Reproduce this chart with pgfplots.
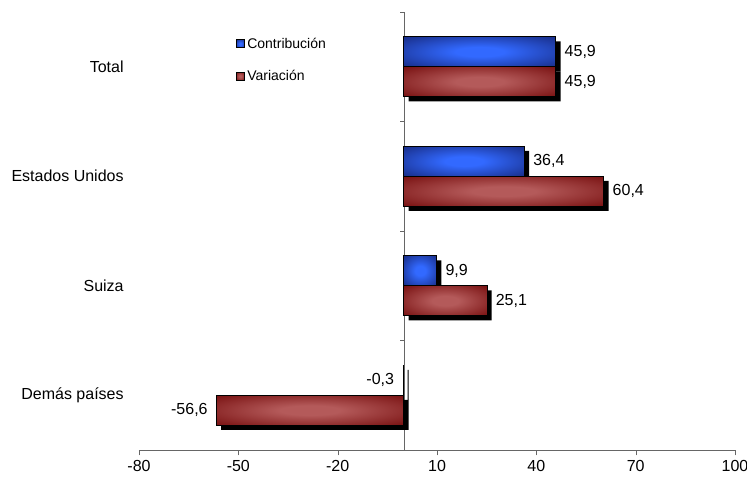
\documentclass[border=0pt]{standalone}
\usepackage{pgfplots}
\pgfplotsset{compat=1.18}
\usepackage{fontspec}
\setmainfont{Liberation Sans}
\definecolor{bluein}{RGB}{50,105,255}
\definecolor{blueout}{RGB}{22,40,125}
\definecolor{redin}{RGB}{180,90,90}
\definecolor{redout}{RGB}{115,10,10}
\definecolor{legblue}{RGB}{40,90,230}
\definecolor{legred}{RGB}{165,70,70}
\pgfdeclareradialshading{blueshade}{\pgfpoint{0bp}{0bp}}{color(0bp)=(bluein); color(8bp)=(bluein); color(38bp)=(blueout); color(50bp)=(blueout)}
\pgfdeclareradialshading{redshade}{\pgfpoint{0bp}{0bp}}{color(0bp)=(redin); color(8bp)=(redin); color(38bp)=(redout); color(50bp)=(redout)}
\pgfplotsset{
  barbase/.style={xbar, bar width=22.5pt, draw=black, line width=0.6pt,
    nodes near coords, nodes near coords align={horizontal},
    every node near coord/.append style={font=\fontsize{12}{14}\selectfont, black,
      /pgf/number format/use comma, /pgf/number format/fixed, /pgf/number format/fixed zerofill,
      /pgf/number format/precision=1, /pgf/number format/assume math mode=true}},
  bluebar/.style={barbase, bar shift=11.25pt, shade, shading=blueshade,
    every node near coord/.append style={yshift=11.25pt},
    legend image code/.code={\draw[fill=legblue,draw=black,line width=0.6pt] (0pt,-3pt) rectangle (6pt,3pt);}},
  redbar/.style={barbase, bar shift=-11.25pt, shade, shading=redshade,
    every node near coord/.append style={yshift=-11.25pt},
    legend image code/.code={\draw[fill=legred,draw=black,line width=0.6pt] (0pt,-3pt) rectangle (6pt,3pt);}},
  pos/.style={every node near coord/.append style={xshift=3pt}},
  neg/.style={every node near coord/.append style={xshift=-3pt}},
  shadow/.style={xbar, bar width=22.5pt, bar shift=#1, fill=black, draw=none, xshift=3.5pt, yshift=-3.5pt, forget plot},
}
\begin{document}
\begin{tikzpicture}
\begin{axis}[
  scale only axis, width=447pt, height=328.5pt,
  xmin=-80, xmax=100, ymin=-0.5, ymax=3.5,
  xtick={-80,-50,-20,10,40,70,100},
  ytick={0,1,2,3},
  yticklabels={Demás países,Suiza,Estados Unidos,Total},
  axis x line=bottom, axis y line=left,
  x axis line style={-, draw=black!60},
  y axis line style={draw=none},
  xtick style={draw=black!60}, ytick style={draw=none},
  tick align=outside, major tick length=4pt,
  ticklabel style={font=\fontsize{12}{14}\selectfont},
  yticklabel style={xshift=-4pt},
  /pgf/number format/assume math mode=true,
  legend style={at={(rel axis cs:0.162,0.948)}, anchor=north west, draw=none, fill=none,
    font=\fontsize{10.5}{12}\selectfont, row sep=11pt, inner sep=0pt, cells={anchor=west}},
  clip=false,
]
\draw[black!60] (axis cs:0,-0.5) -- (axis cs:0,3.5);
\pgfplotsinvokeforeach{0.5,1.5,2.5,3.5}{\draw[black!60] (axis cs:0,#1) -- ([xshift=-3pt]axis cs:0,#1);}
% shadows: Contribución
\addplot[shadow=11.25pt] coordinates {(45.9,3) (36.4,2) (9.9,1) (-0.3,0)};
% shadows: Variación
\addplot[shadow=-11.25pt] coordinates {(45.9,3) (60.4,2) (25.1,1) (-56.6,0)};
% bars (one per category so each gets its own shading)
\addplot[bluebar, pos] coordinates {(45.9,3)};
\addlegendentry{Contribución}
\addplot[redbar, pos] coordinates {(45.9,3)};
\addlegendentry{Variación}
\addplot[bluebar, pos, forget plot] coordinates {(36.4,2)};
\addplot[redbar, pos, forget plot] coordinates {(60.4,2)};
\addplot[bluebar, pos, forget plot] coordinates {(9.9,1)};
\addplot[redbar, pos, forget plot] coordinates {(25.1,1)};
\addplot[bluebar, neg, forget plot] coordinates {(-0.3,0)};
\addplot[redbar, neg, forget plot] coordinates {(-56.6,0)};
\end{axis}
\pgfresetboundingbox
\path ([xshift=-104.25pt,yshift=-24.75pt]current axis.south west) rectangle ([xshift=9pt,yshift=9pt]current axis.north east);
\end{tikzpicture}
\end{document}
